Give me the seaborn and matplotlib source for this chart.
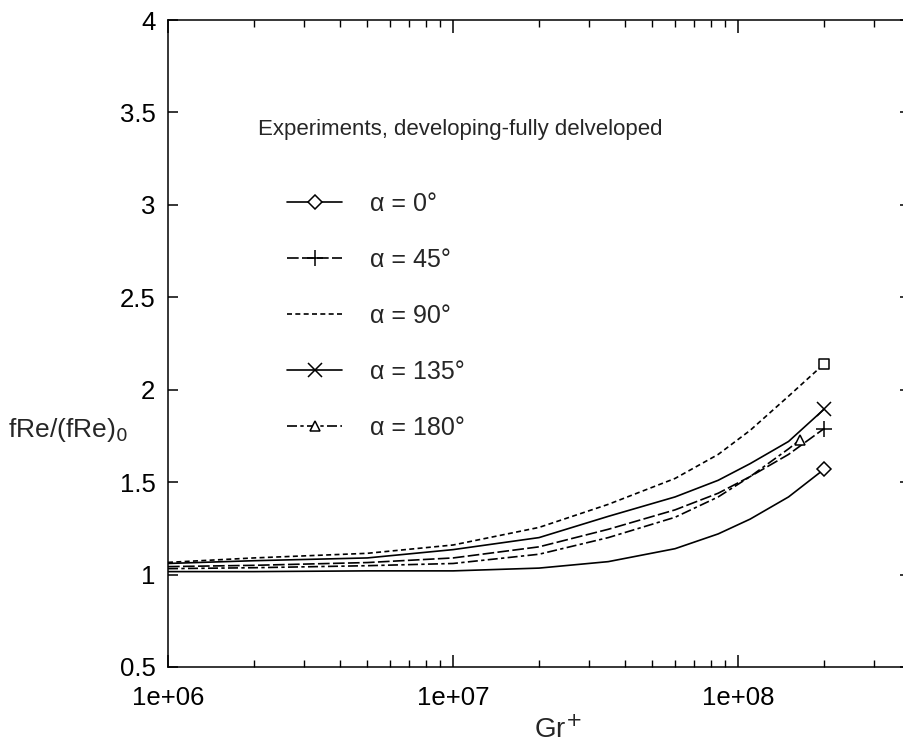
import numpy as np
import pandas as pd
import matplotlib
matplotlib.use("Agg")
import matplotlib.pyplot as plt
import seaborn as sns
from matplotlib.ticker import FixedLocator, LogLocator, NullFormatter

# ---------------- data ----------------
gr = [1e6, 2e6, 5e6, 1e7, 2e7, 3.5e7, 6e7, 8.5e7, 1.1e8, 1.5e8, 2e8]
gr_180 = [1e6, 2e6, 5e6, 1e7, 2e7, 3.5e7, 6e7, 8.5e7, 1.1e8, 1.5e8, 1.65e8]

f_0 = [1.016, 1.016, 1.02, 1.02, 1.035, 1.07, 1.14, 1.22, 1.30, 1.42, 1.57]
f_45 = [1.043, 1.05, 1.065, 1.09, 1.15, 1.245, 1.35, 1.44, 1.53, 1.65, 1.79]
f_90 = [1.066, 1.09, 1.115, 1.16, 1.255, 1.38, 1.52, 1.65, 1.78, 1.965, 2.14]
f_135 = [1.06, 1.075, 1.09, 1.135, 1.20, 1.315, 1.42, 1.51, 1.60, 1.72, 1.895]
f_180 = [1.032, 1.037, 1.048, 1.06, 1.11, 1.20, 1.31, 1.42, 1.53, 1.68, 1.73]

labels = ["α = 0°", "α = 45°", "α = 90°", "α = 135°", "α = 180°"]
y_ticks = [0.5, 1, 1.5, 2, 2.5, 3, 3.5, 4]
y_tick_labels = ["0.5", "1", "1.5", "2", "2.5", "3", "3.5", "4"]
x_ticks = [1e6, 1e7, 1e8]
x_tick_labels = ["1e+06", "1e+07", "1e+08"]
note = "Experiments, developing-fully delveloped"

# ---------------- style ----------------
sns.set_theme(style="ticks")
plt.rcParams["font.family"] = ["Liberation Sans", "DejaVu Sans"]
plt.rcParams["axes.linewidth"] = 1.1

fig = plt.figure(figsize=(9.04, 7.51), dpi=100)
ax = fig.add_axes([168 / 904, 1 - 667 / 751, (910 - 168) / 904, (667 - 20) / 751])

series = [
    (gr, f_0, labels[0], "-", "D", 7),
    (gr, f_45, labels[1], (0, (7, 2)), "+", 11),
    (gr, f_90, labels[2], (0, (3, 2)), None, 0),
    (gr, f_135, labels[3], "-", "x", 10),
    (gr_180, f_180, labels[4], (0, (6, 2, 2, 2)), "^", 7),
]

for xs, ys, lab, ls, mk, ms in series:
    df = pd.DataFrame({"Gr": xs, "f": ys})
    kw = dict(color="black", linewidth=1.2, linestyle=ls, label=lab)
    if mk is not None:
        kw.update(marker=mk, markersize=ms, markerfacecolor="white",
                  markeredgecolor="black", markeredgewidth=1.1,
                  markevery=[len(xs) - 1])
    sns.lineplot(data=df, x="Gr", y="f", ax=ax, errorbar=None, sort=True, **kw)

# square marker at the end of the 90 degree curve (not in legend)
df90 = pd.DataFrame({"Gr": [gr[-1]], "f": [f_90[-1]]})
sns.scatterplot(data=df90, x="Gr", y="f", ax=ax, marker="s", s=60,
                facecolor="white", edgecolor="black", linewidth=1.1,
                legend=False, zorder=5)

ax.set_xscale("log")
ax.set_xlim(1e6, 4e8)
ax.set_ylim(0.5, 4)

ax.xaxis.set_major_locator(FixedLocator(x_ticks))
ax.set_xticklabels(x_tick_labels)
ax.xaxis.set_minor_locator(LogLocator(base=10, subs=np.arange(2, 10)))
ax.xaxis.set_minor_formatter(NullFormatter())
ax.set_yticks(y_ticks)
ax.set_yticklabels(y_tick_labels)

ax.tick_params(axis="both", which="both", direction="in", top=True, right=True,
               colors="black")
ax.tick_params(axis="x", which="major", length=9, width=1.1, pad=14, labelsize=18.5)
ax.tick_params(axis="x", which="minor", length=5, width=1.0)
ax.tick_params(axis="y", which="major", length=7, width=1.1, pad=9, labelsize=18.5)
for sp in ax.spines.values():
    sp.set_visible(True)
    sp.set_color("black")

ax.set_xlabel("Gr$^{+}$", fontsize=20)
ax.xaxis.set_label_coords((558 - 168) / 742, (667 - 716) / 647)
ax.set_ylabel("fRe/(fRe)$_{0}$", fontsize=19, rotation=0, ha="center", va="center")
ax.yaxis.set_label_coords((68 - 168) / 742, (667 - 430) / 647)

ax.text((258 - 168) / 742, (667 - 130) / 647, note, transform=ax.transAxes,
        fontsize=16, ha="left", va="center")

leg = ax.legend(loc="upper left", bbox_to_anchor=((287 - 168) / 742, (667 - 192) / 647),
                frameon=False, fontsize=18, handlelength=2.2, handletextpad=1.1,
                labelspacing=1.28, borderpad=0, borderaxespad=0, numpoints=1)

fig.savefig("out.png", dpi=100)
